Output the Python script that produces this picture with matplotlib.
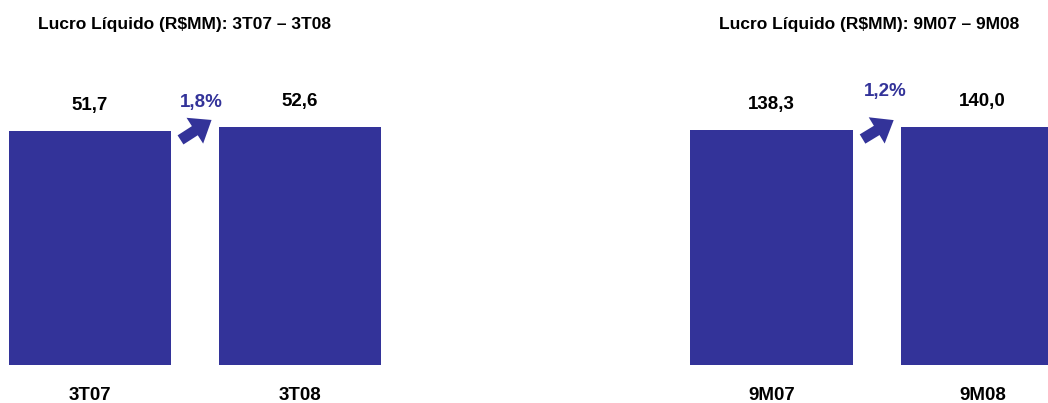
import matplotlib
matplotlib.use("Agg")
import matplotlib.pyplot as plt
from matplotlib.patches import FancyArrowPatch

plt.rcParams['font.family'] = ['Liberation Sans Narrow', 'Liberation Sans', 'DejaVu Sans']
plt.rcParams['font.weight'] = 'bold'

# Lucro líquido (R$MM)
titles = ["Lucro Líquido (R$MM): 3T07 – 3T08", "Lucro Líquido (R$MM): 9M07 – 9M08"]
periods_q = ["3T07", "3T08"]
lucro_q = [51.7, 52.6]
periods_9m = ["9M07", "9M08"]
lucro_9m = [138.3, 140.0]
growth = ["1,8%", "1,2%"]

BLUE = "#333399"
W, H = 1048, 403

fig = plt.figure(figsize=(W / 100, H / 100), dpi=100)
fig.patch.set_facecolor("white")

# axes placement in pixels: (left, right), plus limits for each panel
panels = [
    dict(px=(0, 524), xlim=(-0.4286, 2.067), ymax=80.6, cats=periods_q, vals=lucro_q,
         title=titles[0], tx=185, pct=growth[0], pct_xy=(0.53, 58.0)),
    dict(px=(524, 1048), xlim=(-1.173, 1.310), ymax=214.7, cats=periods_9m, vals=lucro_9m,
         title=titles[1], tx=869, pct=growth[1], pct_xy=(0.54, 161.0)),
]

base_px = 365
for p in panels:
    l, r = p["px"]
    ax = fig.add_axes([l / W, (H - base_px) / H, (r - l) / W, base_px / H])
    ax.set_xlim(*p["xlim"])
    ax.set_ylim(0, p["ymax"])
    ax.axis("off")

    xs = [0, 1]
    ax.bar(xs, p["vals"], width=0.772, color=BLUE, zorder=2)

    for x, v, c in zip(xs, p["vals"], p["cats"]):
        ax.annotate(f"{v:.1f}".replace(".", ","), (x, v), xytext=(0, 12),
                    textcoords="offset points", ha="center", va="bottom",
                    fontsize=13.5, fontweight="bold", color="black")
        ax.annotate(c, (x, 0), xytext=(0, -22), textcoords="offset points",
                    ha="center", va="center", fontsize=13.5, fontweight="bold",
                    color="black", annotation_clip=False)

    # growth arrow between the two bars
    v1, v2 = p["vals"]
    arrow = FancyArrowPatch((0.42, v1 * 0.955), (0.59, v2 * 1.035),
                            arrowstyle="simple,head_width=1.7,head_length=1.1,tail_width=0.6",
                            mutation_scale=13, color=BLUE, lw=0, zorder=3)
    ax.add_patch(arrow)
    ax.text(p["pct_xy"][0], p["pct_xy"][1], p["pct"], ha="center", va="center",
            fontsize=13.5, fontweight="bold", color=BLUE)

    fig.text(p["tx"] / W, 1 - 25 / H, p["title"], ha="center", va="center",
             fontsize=12.5, fontweight="bold", color="black")

fig.savefig("out.png", dpi=100, facecolor="white")
